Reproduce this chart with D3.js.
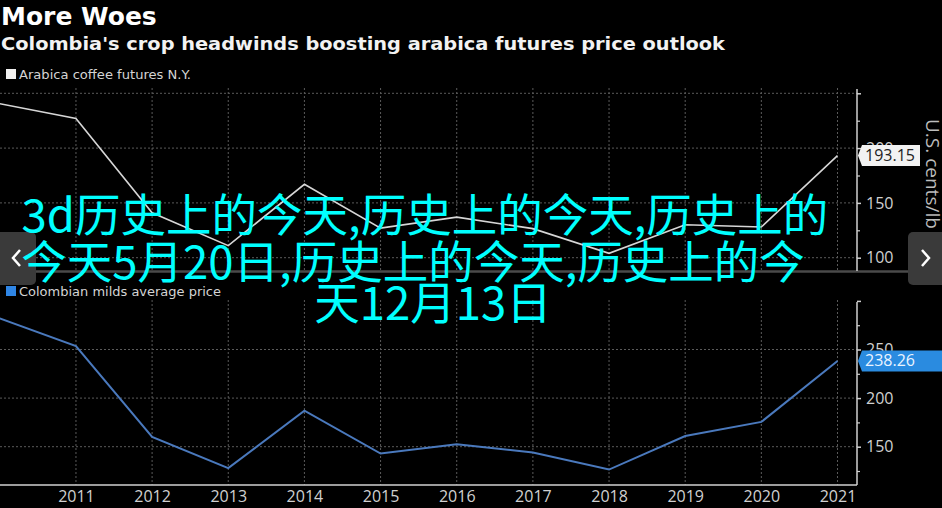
<!DOCTYPE html>
<html><head><meta charset="utf-8">
<script src="https://cdn.jsdelivr.net/npm/d3@7"></script>
<style>html,body{margin:0;padding:0;background:#000;overflow:hidden}</style>
</head><body>
<svg id="c" width="942" height="508"></svg>
<script>
const years = [2010,2011,2012,2013,2014,2015,2016,2017,2018,2019,2020,2021];
const arabica = [240.5,227,141,111,167,127,137,126.5,104,130,128,193.15];
const milds = [282,253.5,160,128,187,143,152.5,144,126.5,161,175.5,238.26];
const xTickYears = [2011,2012,2013,2014,2015,2016,2017,2018,2019,2020,2021];
const topMajor = [100,150,200,250];
const topLabels = [100,150,200];
const topMinor = [125,175,225];
const botMajor = [150,200,250,300];
const botLabels = [150,200,250];
const botMinor = [125,175,225,275];
const titleText = "More Woes";
const subtitleText = "Colombia's crop headwinds boosting arabica futures price outlook";
const legendTop = "Arabica coffee futures N.Y.";
const legendBot = "Colombian milds average price";
const axisTitle = "U.S. cents/lb";
const lastTop = "193.15", lastBot = "238.26";
const overlayLines = ["3d历史上的今天,历史上的今天,历史上的","今天5月20日,历史上的今天,历史上的今","天12月13日"];

const svg = d3.select("#c");
svg.append("rect").attr("width",942).attr("height",508).attr("fill","#000");

const axisX = 857;
const x = d3.scaleLinear().domain([2010,2021]).range([-0.2,837.5]);
const yTop = d3.scaleLinear().domain([100,250]).range([257.7,93.3]);
const yBot = d3.scaleLinear().domain([150,250]).range([446.7,349.5]);

const gridCol = "#5a5a5a";
function panel(y, majorGrid, yMin, yMax) {
  const g = svg.append("g");
  g.selectAll("line.h").data(majorGrid).join("line")
    .attr("x1",0).attr("x2",axisX).attr("y1",d=>y(d)).attr("y2",d=>y(d))
    .attr("stroke",gridCol).attr("stroke-dasharray","2,2");
  g.selectAll("line.v").data(xTickYears).join("line")
    .attr("x1",d=>x(d)).attr("x2",d=>x(d)).attr("y1",yMin).attr("y2",yMax)
    .attr("stroke",gridCol).attr("stroke-dasharray","2,2");
}
panel(yTop,[100,150,200,250],88,270);
panel(yBot,[150,200,250],300,485);

// separator
svg.append("line").attr("x1",0).attr("x2",942).attr("y1",271.5).attr("y2",271.5)
  .attr("stroke","#4a4a4a").attr("stroke-width",2.5);

// right axes
function rightAxis(y, major, labels, minor, y0, y1) {
  const g = svg.append("g").attr("transform",`translate(${axisX},0)`);
  g.append("line").attr("x1",0).attr("x2",0).attr("y1",y0).attr("y2",y1).attr("stroke","#d0d0d0").attr("stroke-width",1.5);
  const ax = d3.axisRight(y).tickValues(major).tickSize(4).tickPadding(5)
    .tickFormat(d=>labels.includes(d)?d:"");
  const ga = g.append("g").call(ax);
  ga.select(".domain").remove();
  ga.selectAll("line").attr("stroke","#d0d0d0").attr("stroke-width",1.5);
  ga.selectAll("text").attr("fill","#d0d0d0").style("font-family","'Open Sans'").style("font-size","16px");
  const gm = g.append("g").call(d3.axisRight(y).tickValues(minor).tickSize(3).tickFormat(""));
  gm.select(".domain").remove();
  gm.selectAll("line").attr("stroke","#d0d0d0").attr("stroke-width",1.2);
}
rightAxis(yTop, topMajor, topLabels, topMinor, 89, 271);
rightAxis(yBot, botMajor, botLabels, botMinor, 302, 485);

// bottom x axis
const xa = svg.append("g").attr("transform","translate(0,485)")
  .call(d3.axisBottom(x).tickValues(xTickYears).tickSize(0).tickPadding(6).tickFormat(d3.format("d")));
xa.select(".domain").remove();
xa.append("line").attr("x1",0).attr("x2",axisX).attr("y1",0).attr("y2",0).attr("stroke","#d0d0d0").attr("stroke-width",1.5);
xa.selectAll("text").attr("fill","#d0d0d0").style("font-family","'Open Sans'").style("font-size","16px");

// lines
svg.append("path").datum(years.map((d,i)=>[d,arabica[i]]))
  .attr("d",d3.line().x(d=>x(d[0])).y(d=>yTop(d[1])))
  .attr("fill","none").attr("stroke","#d6d6d6").attr("stroke-width",1.6);
svg.append("path").datum(years.map((d,i)=>[d,milds[i]]))
  .attr("d",d3.line().x(d=>x(d[0])).y(d=>yBot(d[1])))
  .attr("fill","none").attr("stroke","#4a79bd").attr("stroke-width",2);

// value tags
function tag(yv, txt, fill, tcol, right) {
  const g = svg.append("g");
  const h = 21, xl = 862;
  g.append("path").attr("d",`M${axisX+1},${yv} L${xl},${yv-h/2} L${right},${yv-h/2} L${right},${yv+h/2} L${xl},${yv+h/2} Z`).attr("fill",fill);
  g.append("text").attr("x",865).attr("y",yv+5.5).text(txt).attr("fill",tcol)
    .style("font-family","'Open Sans'").style("font-size","16px");
}
tag(yTop(arabica[arabica.length-1]), lastTop, "#f2f2f2", "#222", 920);
tag(yBot(milds[milds.length-1]), lastBot, "#2a8be0", "#eaf4ff", 942);

// axis title
svg.append("text").attr("transform","translate(926,119) rotate(90)").text(axisTitle)
  .attr("fill","#bdbdbd").style("font-family","'Open Sans'").style("font-size","19px");

// titles
svg.append("text").attr("x",1).attr("y",25).text(titleText).attr("fill","#fff")
  .style("font-family","'DejaVu Sans'").style("font-weight","bold").style("font-size","25px");
svg.append("text").attr("x",1).attr("y",50).text(subtitleText).attr("fill","#f2f2f2")
  .attr("textLength",724).attr("lengthAdjust","spacingAndGlyphs")
  .style("font-family","'DejaVu Sans'").style("font-weight","bold").style("font-size","18px");

// legends
function legend(y, col, txt, len) {
  svg.append("rect").attr("x",6).attr("y",y-10).attr("width",10).attr("height",10).attr("fill",col);
  svg.append("text").attr("x",19).attr("y",y).text(txt).attr("fill","#d4d4d4")
    .attr("textLength",len).attr("lengthAdjust","spacingAndGlyphs")
    .style("font-family","'DejaVu Sans'").style("font-size","12.5px");
}
legend(79, "#f0f0f0", legendTop, 172);
legend(296, "#2f86e6", legendBot, 202);

// nav buttons
svg.append("rect").attr("x",-6).attr("y",232).attr("width",42).attr("height",53).attr("rx",5).attr("fill","#3a3a3a");
svg.append("rect").attr("x",908).attr("y",232).attr("width",42).attr("height",53).attr("rx",5).attr("fill","#3a3a3a");
svg.append("path").attr("d","M20,250 L13,258 L20,266").attr("fill","none").attr("stroke","#fff").attr("stroke-width",2.5);
svg.append("path").attr("d","M922,250 L929,258 L922,266").attr("fill","none").attr("stroke","#fff").attr("stroke-width",2.5);

// overlay
svg.selectAll("text.ov").data(overlayLines).join("text").attr("class","ov")
  .attr("x",(d,i)=>[425,413,433][i]).attr("y",(d,i)=>[232,279,320][i]).attr("text-anchor","middle")
  .text(d=>d).attr("fill","#00ffff")
  .style("font-family","'Noto Sans CJK SC'").style("font-size","45.5px");
</script>
</body></html>
